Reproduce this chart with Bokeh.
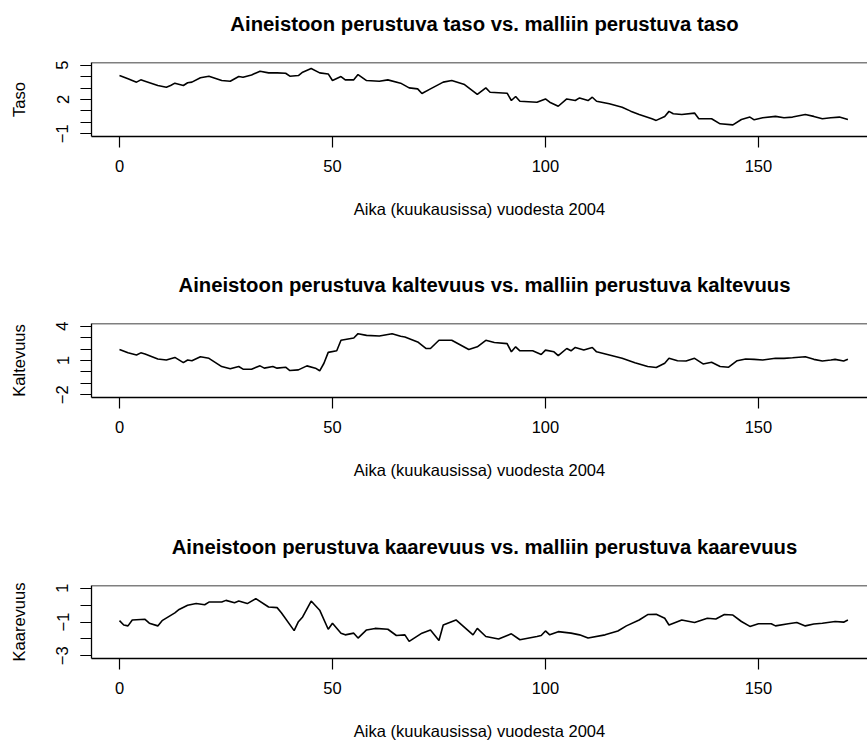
from bokeh.plotting import figure
from bokeh.layouts import column
from bokeh.models import FixedTicker, Span, Range1d, Label
from bokeh.embed import file_html
from bokeh.resources import INLINE

# ---------------- data ----------------
taso_t = [0, 2, 4, 5, 6, 9, 11, 12, 13, 15, 16, 17, 19, 21, 24, 26, 28, 29, 31, 33, 35, 37, 39, 40,
          42, 43, 45, 47, 49, 50, 52, 53, 55, 56, 58, 61, 63, 66, 68, 70, 71, 73, 76, 78, 81, 84, 86,
          87, 91, 92, 93, 94, 98, 100, 101, 103, 105, 107, 108, 110, 111, 112, 115, 118, 120, 122,
          125, 126, 128, 129, 130, 132, 135, 136, 139, 141, 144, 146, 148, 149, 151, 154, 156, 158,
          161, 163, 165, 167, 169, 171]
taso_v = [4.10, 3.81, 3.52, 3.72, 3.60, 3.23, 3.08, 3.23, 3.43, 3.23, 3.47, 3.52, 3.90, 4.04, 3.66,
          3.60, 4.01, 3.95, 4.15, 4.48, 4.33, 4.33, 4.30, 4.04, 4.10, 4.39, 4.71, 4.33, 4.24, 3.66,
          4.01, 3.72, 3.72, 4.18, 3.66, 3.60, 3.72, 3.43, 3.02, 2.93, 2.52, 2.93, 3.52, 3.66, 3.31,
          2.44, 3.02, 2.64, 2.55, 1.91, 2.26, 1.85, 1.76, 2.05, 1.76, 1.41, 2.05, 1.91, 2.14, 1.91,
          2.20, 1.85, 1.62, 1.33, 0.98, 0.69, 0.31, 0.17, 0.52, 0.96, 0.75, 0.69, 0.81, 0.31, 0.31,
          -0.13, -0.22, 0.25, 0.46, 0.22, 0.40, 0.52, 0.40, 0.46, 0.69, 0.52, 0.31, 0.40, 0.46, 0.25]

kalt_t = [0, 2, 4, 5, 6, 9, 11, 13, 15, 16, 17, 19, 21, 24, 26, 28, 29, 31, 33, 34, 36, 37, 39, 40,
          42, 44, 46, 47, 48, 49, 51, 52, 54, 55, 56, 58, 61, 64, 66, 67, 70, 72, 73, 75, 78, 82, 84,
          86, 88, 91, 92, 93, 94, 97, 99, 100, 102, 103, 105, 106, 107, 109, 111, 112, 115, 118, 121,
          124, 126, 128, 129, 131, 133, 135, 137, 139, 141, 143, 145, 147, 149, 151, 154, 156, 158,
          161, 163, 165, 167, 168, 170, 171]
kalt_v = [1.97, 1.67, 1.48, 1.67, 1.56, 1.13, 1.04, 1.27, 0.81, 1.04, 0.98, 1.33, 1.19, 0.47, 0.27,
          0.47, 0.24, 0.24, 0.53, 0.33, 0.47, 0.33, 0.41, 0.12, 0.18, 0.53, 0.33, 0.10, 0.76, 1.71,
          1.85, 2.77, 2.91, 2.97, 3.35, 3.20, 3.14, 3.35, 3.12, 3.06, 2.63, 2.05, 2.05, 2.77, 2.77,
          1.97, 2.20, 2.77, 2.57, 2.48, 1.76, 2.20, 1.85, 1.85, 1.53, 1.91, 1.76, 1.42, 2.05, 1.85,
          2.14, 1.91, 2.14, 1.76, 1.48, 1.19, 0.81, 0.47, 0.38, 0.76, 1.19, 0.98, 0.95, 1.19, 0.70,
          0.84, 0.47, 0.41, 0.98, 1.13, 1.10, 1.04, 1.19, 1.19, 1.24, 1.33, 1.10, 0.95, 1.04, 1.10,
          0.95, 1.10]

kaar_t = [0, 1, 2, 3, 6, 7, 9, 10, 13, 14, 16, 18, 20, 21, 24, 25, 27, 28, 30, 32, 35, 37, 38, 41,
          42, 43, 45, 47, 49, 50, 52, 53, 55, 56, 58, 60, 63, 65, 67, 68, 71, 73, 75, 76, 79, 83, 84,
          86, 89, 92, 94, 98, 99, 100, 101, 103, 106, 108, 110, 114, 117, 119, 122, 124, 126, 128,
          129, 132, 135, 138, 140, 142, 144, 146, 148, 150, 153, 154, 157, 159, 161, 163, 165, 168,
          170, 171]
kaar_v = [-0.92, -1.18, -1.23, -0.88, -0.84, -1.07, -1.23, -0.92, -0.46, -0.26, -0.01, 0.09, 0.02,
          0.18, 0.18, 0.28, 0.14, 0.24, 0.09, 0.38, -0.11, -0.15, -0.45, -1.51, -0.98, -0.70, 0.24,
          -0.30, -1.43, -1.07, -1.66, -1.76, -1.66, -1.95, -1.47, -1.38, -1.43, -1.80, -1.76, -2.15,
          -1.66, -1.47, -2.09, -1.18, -0.88, -1.76, -1.38, -1.86, -2.01, -1.70, -2.05, -1.86, -1.80,
          -1.53, -1.76, -1.57, -1.66, -1.76, -1.95, -1.76, -1.53, -1.23, -0.88, -0.56, -0.54, -0.78,
          -1.18, -0.88, -1.03, -0.78, -0.82, -0.56, -0.59, -0.97, -1.26, -1.10, -1.10, -1.23, -1.10,
          -1.03, -1.23, -1.12, -1.07, -0.97, -1.01, -0.88]

titles = ["Aineistoon perustuva taso vs. malliin perustuva taso",
          "Aineistoon perustuva kaltevuus vs. malliin perustuva kaltevuus",
          "Aineistoon perustuva kaarevuus vs. malliin perustuva kaarevuus"]
ylabels = ["Taso", "Kaltevuus", "Kaarevuus"]
xlabel = "Aika (kuukausissa) vuodesta 2004"
x_ticks = [0, 50, 100, 150]
y_major = [[-1, 2, 5], [-2, 1, 4], [-3, -1, 1]]
y_minor = [[-1, 0, 1, 2, 3, 4, 5], [-2, -1, 0, 1, 2, 3, 4], [-3, -2, -1, 0, 1]]
y_lims = [(-1.24, 5.24), (-2.24, 4.24), (-3.16, 1.16)]
series = [(taso_t, taso_v), (kalt_t, kalt_v), (kaar_t, kaar_v)]

FONT = "Liberation Sans"
W = 867
LEFT = 91
TITLE_H = 40
panel_heights = [221, 222, 179]
FRAME_H = 74
TOP = 22


def title_fig(text):
    # a strip that only carries the panel's main title; its frame is aligned
    # with the panel frames by the column layout
    t = figure(width=W, height=TITLE_H, output_backend="svg", toolbar_location=None,
               x_axis_location=None, y_axis_location=None,
               x_range=Range1d(0, W - LEFT), y_range=Range1d(0, TITLE_H),
               min_border_left=LEFT, min_border_right=0, min_border_top=0, min_border_bottom=0)
    t.outline_line_color = None
    t.grid.visible = False
    t.add_layout(Label(x=484 - LEFT, y=17, x_units="screen", y_units="screen",
                       text=text, text_align="center", text_baseline="middle",
                       text_font=FONT, text_font_size="20.3px", text_font_style="bold",
                       text_color="black"))
    return t


def panel(i):
    h = panel_heights[i]
    p = figure(width=W, height=h, output_backend="svg", toolbar_location=None,
               x_range=Range1d(-6.57, 175.6), y_range=Range1d(*y_lims[i]),
               min_border_left=LEFT, min_border_right=0, min_border_top=TOP,
               min_border_bottom=h - TOP - FRAME_H)
    p.outline_line_color = None
    p.grid.visible = False
    p.background_fill_color = "white"
    p.border_fill_color = "white"

    xs, ys = series[i]
    p.line(xs, ys, line_color="black", line_width=1.6)

    xa = p.xaxis[0]
    xa.ticker = FixedTicker(ticks=x_ticks)
    xa.axis_line_color = "black"
    xa.axis_line_width = 1.3
    xa.major_tick_line_color = "black"
    xa.major_tick_line_width = 1.2
    xa.major_tick_out = 11
    xa.major_tick_in = 0
    xa.minor_tick_line_color = None
    xa.major_label_text_font = FONT
    xa.major_label_text_font_size = "16.5px"
    xa.major_label_text_color = "black"
    xa.major_label_standoff = 12
    xa.axis_label = xlabel
    xa.axis_label_text_font = FONT
    xa.axis_label_text_font_size = "16.5px"
    xa.axis_label_text_font_style = "normal"
    xa.axis_label_text_color = "black"
    xa.axis_label_standoff = 25

    ya = p.yaxis[0]
    ya.ticker = FixedTicker(ticks=y_major[i], minor_ticks=y_minor[i])
    ya.axis_line_color = "black"
    ya.axis_line_width = 1.3
    ya.major_tick_line_color = "black"
    ya.major_tick_line_width = 1.2
    ya.major_tick_out = 11
    ya.major_tick_in = 0
    ya.minor_tick_line_color = "black"
    ya.minor_tick_line_width = 1.2
    ya.minor_tick_out = 11
    ya.minor_tick_in = 0
    ya.major_label_orientation = "vertical"
    ya.major_label_text_font = FONT
    ya.major_label_text_font_size = "16.5px"
    ya.major_label_text_color = "black"
    ya.major_label_standoff = 12
    ya.axis_label = ylabels[i]
    ya.axis_label_text_font = FONT
    ya.axis_label_text_font_size = "16.5px"
    ya.axis_label_text_font_style = "normal"
    ya.axis_label_text_color = "black"
    ya.axis_label_standoff = 26

    p.add_layout(Span(location=y_lims[i][1], dimension="width",
                      line_color="black", line_width=1.3))
    return p


layout = column(title_fig(titles[0]), panel(0),
                title_fig(titles[1]), panel(1),
                title_fig(titles[2]), panel(2), spacing=0)
open("out.html", "w").write(file_html(layout, INLINE))
